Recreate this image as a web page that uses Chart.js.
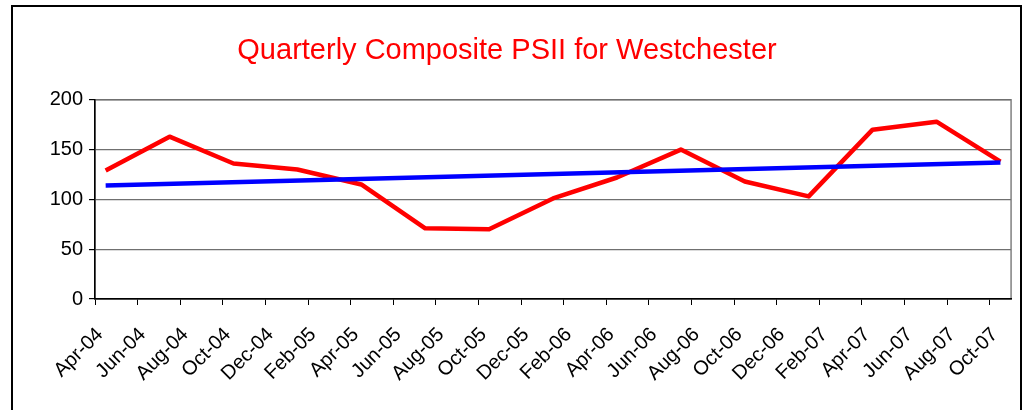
<!DOCTYPE html>
<html>
<head>
<meta charset="utf-8">
<title>Quarterly Composite PSII for Westchester</title>
<script src="https://cdn.jsdelivr.net/npm/chart.js@4/dist/chart.umd.min.js"></script>
<style>
    html, body { margin: 0; padding: 0; background: #fff; }
    #chart-wrap { width: 1025px; height: 410px; }
</style>
</head>
<body>
<div id="chart-wrap"><canvas id="psii-chart" width="1025" height="410"></canvas></div>
<script>
// Axis ticks: months counted from Apr-04, one label every 2 months
const tickMonths = [0, 2, 4, 6, 8, 10, 12, 14, 16, 18, 20, 22, 24, 26, 28, 30, 32, 34, 36, 38, 40, 42];
const tickLabels = ['Apr-04', 'Jun-04', 'Aug-04', 'Oct-04', 'Dec-04', 'Feb-05', 'Apr-05', 'Jun-05',
    'Aug-05', 'Oct-05', 'Dec-05', 'Feb-06', 'Apr-06', 'Jun-06', 'Aug-06', 'Oct-06', 'Dec-06',
    'Feb-07', 'Apr-07', 'Jun-07', 'Aug-07', 'Oct-07'];
const yTicks = [0, 50, 100, 150, 200];

// Quarterly composite values (mid-month of each quarter)
const quarterMonths = [0.5, 3.5, 6.5, 9.5, 12.5, 15.5, 18.5, 21.5, 24.5, 27.5, 30.5, 33.5, 36.5, 39.5, 42.5];
const psiiValues = [129, 163, 136, 130, 115, 71, 70, 101, 122, 150, 118, 103, 170, 178, 138];

// Trend line end points
const trendMonths = [0.5, 42.5];
const trendValues = [114, 137];

function toPoints(xs, ys) {
    return xs.map((x, i) => ({ x: x, y: ys[i] }));
}

// Outer frame + gray plot-area box
const framePlugin = {
    id: 'frame',
    beforeDraw(chart) {
        const ctx = chart.ctx;
        const area = chart.chartArea;
        ctx.save();
        ctx.strokeStyle = '#000';
        ctx.lineWidth = 2;
        ctx.strokeRect(12, 6, 1009, 420);
        ctx.strokeStyle = '#808080';
        ctx.lineWidth = 1.5;
        ctx.strokeRect(area.left, area.top, area.right - area.left, area.bottom - area.top);
        ctx.restore();
    }
};

const font = 'Liberation Sans, Arial, sans-serif';

new Chart(document.getElementById('psii-chart').getContext('2d'), {
    type: 'line',
    data: {
        datasets: [{
            label: 'Trend',
            data: toPoints(trendMonths, trendValues),
            borderColor: '#0000FF',
            borderWidth: 4.5,
            pointRadius: 0,
            tension: 0
        }, {
            label: 'PSII',
            data: toPoints(quarterMonths, psiiValues),
            borderColor: '#FF0000',
            borderWidth: 4.5,
            borderJoinStyle: 'round',
            pointRadius: 0,
            tension: 0
        }]
    },
    options: {
        responsive: false,
        animation: false,
        layout: {
            padding: { left: 0, right: 11, top: 0, bottom: 0 }
        },
        plugins: {
            legend: { display: false },
            tooltip: { enabled: false },
            title: {
                display: true,
                text: 'Quarterly Composite PSII for Westchester',
                color: '#FF0000',
                font: { family: font, size: 29, weight: 'normal' },
                padding: { top: 34, bottom: 31 }
            }
        },
        scales: {
            x: {
                type: 'linear',
                min: 0,
                max: 43,
                afterBuildTicks: function(axis) {
                    axis.ticks = tickMonths.map(v => ({ value: v }));
                },
                afterFit: function(axis) {
                    axis.height = 111;
                },
                ticks: {
                    autoSkip: false,
                    maxRotation: 45,
                    minRotation: 45,
                    padding: 18,
                    labelOffset: 5,
                    color: '#000',
                    font: { family: font, size: 20 },
                    callback: function(value) {
                        const i = tickMonths.indexOf(value);
                        return i >= 0 ? tickLabels[i] : '';
                    }
                },
                grid: {
                    drawOnChartArea: false,
                    drawTicks: true,
                    tickLength: 6,
                    color: '#000'
                },
                border: { color: '#000', width: 1.5 }
            },
            y: {
                min: 0,
                max: 200,
                afterBuildTicks: function(axis) {
                    axis.ticks = yTicks.map(v => ({ value: v }));
                },
                afterFit: function(axis) {
                    axis.width = 95;
                },
                ticks: {
                    padding: 6,
                    color: '#000',
                    font: { family: font, size: 20 }
                },
                grid: {
                    color: '#707070',
                    lineWidth: 1.2,
                    tickLength: 6,
                    tickColor: '#000'
                },
                border: { color: '#000', width: 1.5 }
            }
        }
    },
    plugins: [framePlugin]
});
</script>
</body>
</html>
